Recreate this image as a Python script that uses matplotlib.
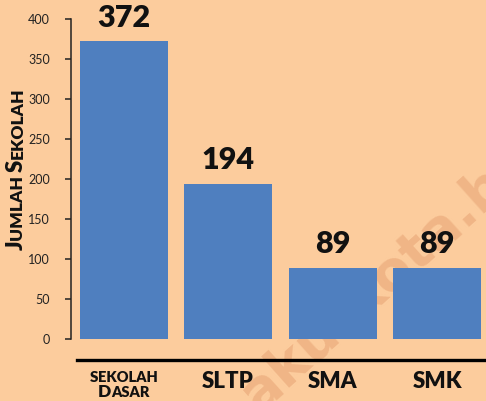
import matplotlib
matplotlib.use("Agg")
import matplotlib.pyplot as plt
from matplotlib import font_manager
from matplotlib.lines import Line2D

# ---- data ----
categories = ["SEKOLAH DASAR", "SLTP", "SMA", "SMK"]
values = [372, 194, 89, 89]
yticks = [0, 50, 100, 150, 200, 250, 300, 350, 400]

BG = "#FCCC9D"
BAR = "#4F7FBF"

avail = {f.name for f in font_manager.fontManager.ttflist}
BOLD_FONT = "Lato" if "Lato" in avail else "DejaVu Sans"
TICK_FONT = "Liberation Sans Narrow" if "Liberation Sans Narrow" in avail else BOLD_FONT

W, H = 486, 401
fig = plt.figure(figsize=(W / 100, H / 100), dpi=100, facecolor=BG)

def px_x(x):
    return x / W

def px_y(y):
    return (H - y) / H

ax = fig.add_axes([px_x(71), px_y(339), px_x(486) - px_x(71), px_y(19) - px_y(339)])
ax.set_facecolor("none")

x = list(range(len(categories)))
ax.bar(x, values, width=0.845, color=BAR, zorder=2)
ax.set_xlim(-0.508, 3.47)
ax.set_ylim(0, 400)

for xi, v in zip(x, values):
    ax.annotate(str(v), (xi, v), xytext=(0, 7), textcoords="offset points",
                ha="center", va="bottom", fontsize=22, fontweight="heavy",
                family=BOLD_FONT, color="#111111", annotation_clip=False)

for s in ["top", "right", "bottom"]:
    ax.spines[s].set_visible(False)
ax.spines["left"].set_bounds(0, 400)
ax.spines["left"].set_linewidth(1.1)
ax.spines["left"].set_color("#222222")
ax.set_xticks([])
ax.set_yticks(yticks)
ax.set_yticklabels([str(t) for t in yticks], family=TICK_FONT, fontsize=9,
                   color="#222222")
ax.tick_params(axis="y", length=4, width=1.1, color="#222222", pad=11)

# thick black line under the axis
fig.add_artist(Line2D([px_x(77), 1.0], [px_y(360), px_y(360)],
                      transform=fig.transFigure, color="black", lw=2.4))

renderer = fig.canvas.get_renderer()

def small_caps(parts, cx, cy, rotation=0):
    """parts: list of (text, fontsize); cx, cy center in px (image coords); cy is baseline."""
    widths = []
    for t, fs in parts:
        tt = fig.text(0, 0, t, fontsize=fs, fontweight="heavy", family=BOLD_FONT)
        widths.append(tt.get_window_extent(renderer).width)
        tt.remove()
    total = sum(widths)
    pos = -total / 2
    for (t, fs), w in zip(parts, widths):
        if rotation == 0:
            fx, fy = px_x(cx + pos), px_y(cy)
        else:
            fx, fy = px_x(cx), px_y(cy - pos)
        fig.text(fx, fy, t, fontsize=fs, fontweight="heavy", family=BOLD_FONT,
                 color="#111111", ha="left", va="baseline", rotation=rotation,
                 rotation_mode="anchor")
        pos += w

# y label (small caps)
small_caps([("J", 16), ("UMLAH ", 12.5), ("S", 16), ("EKOLAH", 12.5)], 23, 169, rotation=90)

# x labels
centers_px = [124, 228, 333, 437]
small_caps([("S", 11), ("EKOLAH", 10.5)], centers_px[0], 382)
small_caps([("D", 12.5), ("ASAR", 10.5)], centers_px[0], 397)
for cxp, lab in zip(centers_px[1:], categories[1:]):
    fig.text(px_x(cxp), px_y(388), lab, fontsize=16, fontweight="heavy",
             family=BOLD_FONT, color="#111111", ha="center", va="baseline")

# faint watermark
fig.text(px_x(258), px_y(414), "akutkota.b", fontsize=40, fontweight="bold",
         family="DejaVu Sans", color="#F0B586", rotation=41.8, rotation_mode="anchor",
         ha="left", va="baseline", zorder=-1)

fig.savefig("out.png", dpi=100, facecolor=BG)
